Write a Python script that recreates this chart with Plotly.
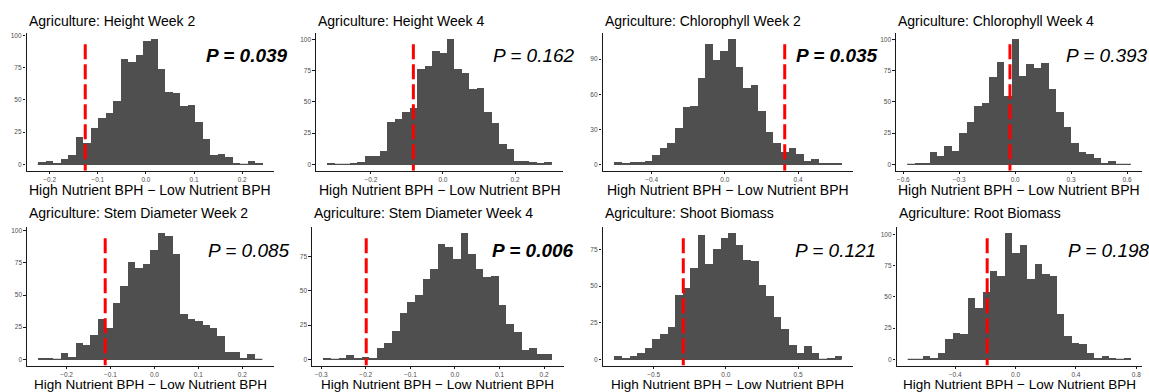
import plotly.graph_objects as go

# ---- data -----------------------------------------------------------------
titles = [
    "Agriculture: Height Week 2",
    "Agriculture: Height Week 4",
    "Agriculture: Chlorophyll Week 2",
    "Agriculture: Chlorophyll Week 4",
    "Agriculture: Stem Diameter Week 2",
    "Agriculture: Stem Diameter Week 4",
    "Agriculture: Shoot Biomass",
    "Agriculture: Root Biomass",
]

# permutation counts, 30 equal-width bins per panel
counts_height_w2 = [2, 3, 1, 4, 7, 21, 17, 28, 36, 40, 49, 82, 79, 85, 96,
                    97, 74, 56, 55, 45, 46, 33, 20, 7, 8, 6, 1, 0, 3, 1]
counts_height_w4 = [1, 0, 0, 1, 2, 7, 7, 11, 34, 36, 42, 45, 76, 79, 91,
                    89, 100, 76, 73, 60, 61, 42, 33, 16, 12, 3, 3, 2, 1, 2]
counts_chloro_w2 = [2, 1, 2, 2, 3, 8, 14, 18, 31, 49, 50, 74, 103, 89, 97,
                    107, 83, 65, 68, 46, 28, 18, 11, 14, 9, 3, 5, 1, 1, 1]
counts_chloro_w4 = [0, 1, 1, 10, 7, 15, 11, 25, 34, 47, 49, 70, 82, 55, 100,
                    71, 80, 77, 81, 60, 42, 30, 17, 10, 8, 5, 1, 3, 0, 0]
counts_stem_w2 = [1, 1, 0, 5, 2, 13, 11, 19, 31, 24, 44, 57, 76, 71, 74,
                  85, 98, 96, 82, 35, 31, 30, 27, 24, 18, 6, 6, 1, 4, 0]
counts_stem_w4 = [1, 0, 1, 3, 1, 2, 1, 8, 12, 21, 34, 42, 47, 59, 66,
                  84, 82, 73, 92, 77, 66, 60, 61, 40, 26, 20, 7, 8, 4, 4]
counts_shoot = [2, 1, 2, 4, 8, 14, 17, 22, 44, 49, 62, 85, 65, 75, 83,
                86, 78, 68, 67, 51, 43, 29, 21, 10, 4, 9, 4, 0, 1, 2]
counts_root = [0, 0, 3, 1, 5, 16, 21, 20, 49, 41, 54, 71, 67, 101, 85,
               92, 64, 76, 68, 67, 36, 19, 13, 12, 5, 1, 3, 1, 0, 1]

all_counts = [counts_height_w2, counts_height_w4, counts_chloro_w2,
              counts_chloro_w4, counts_stem_w2, counts_stem_w4,
              counts_shoot, counts_root]

# outer edges of the binned permutation differences
bin_lo = [-0.2247, -0.321, -0.606, -0.579, -0.2645, -0.295, -0.776, -0.715]
bin_hi = [0.2417, 0.302, 0.635, 0.620, 0.2455, 0.218, 0.802, 0.764]

# observed High - Low nutrient difference
observed = [-0.126, -0.082, 0.327, -0.028, -0.112, -0.199, -0.295, -0.188]

p_values = ["0.039", "0.162", "0.035", "0.393", "0.085", "0.006", "0.121", "0.198"]
p_significant = [True, False, True, False, False, True, False, False]

x_ticks = [
    [-0.2, -0.1, 0.0, 0.1, 0.2],
    [-0.2, 0.0, 0.2],
    [-0.4, 0.0, 0.4],
    [-0.6, -0.3, 0.0, 0.3, 0.6],
    [-0.2, -0.1, 0.0, 0.1, 0.2],
    [-0.3, -0.2, -0.1, 0.0, 0.1, 0.2],
    [-0.5, 0.0, 0.5],
    [-0.4, 0.0, 0.4, 0.8],
]
y_ticks = [
    [0, 25, 50, 75, 100],
    [0, 25, 50, 75, 100],
    [0, 30, 60, 90],
    [0, 25, 50, 75, 100],
    [0, 25, 50, 75, 100],
    [0, 25, 50, 75],
    [0, 25, 50, 75],
    [0, 25, 50, 75, 100],
]

x_label = "High Nutrient BPH \u2212 Low Nutrient BPH"

# ---- layout geometry (pixels) ---------------------------------------------
W, H = 1149, 392
panel_x = [(26.5, 273.5), (316, 563), (602.5, 852.5), (896, 1142),
           (27, 273.5), (312, 563.5), (602.5, 853), (896.5, 1142)]
row_y = [(33, 170.7), (227, 365.6)]
title_y = [21.5, 213.5]
xlabel_y = [189.5, 384.2]
xlabel_size = [14, 13.5]
p_y = [55.5, 250.5]
p_left = [204, 491, 794, 1064, 206, 490, 793, 1066]

FONT = "Liberation Sans, Arial, Helvetica, sans-serif"
BAR = "#4f4f4f"
AXIS = "#1a1a1a"
TICKTXT = "#4d4d4d"


def px_x(v):
    return v / W


def px_y(v):
    return 1 - v / H


fig = go.Figure()
shapes = []
annotations = []
layout_axes = {}

for i in range(8):
    n = i + 1
    row = i // 4
    counts = all_counts[i]
    lo, hi = bin_lo[i], bin_hi[i]
    nb = len(counts)
    bw = (hi - lo) / nb
    centers = [lo + bw * (k + 0.5) for k in range(nb)]
    ymax = max(counts)
    span = hi - lo
    xr = [lo - 0.05 * span, hi + 0.05 * span]
    yr = [-0.05 * ymax, 1.05 * ymax]
    xa = "x" if n == 1 else f"x{n}"
    ya = "y" if n == 1 else f"y{n}"

    fig.add_trace(go.Bar(
        x=centers, y=counts, width=bw,
        marker=dict(color=BAR, line=dict(width=0)),
        xaxis=xa, yaxis=ya, hoverinfo="x+y",
    ))
    # zero-height bins still leave a thin baseline across the binned range
    fig.add_trace(go.Scatter(
        x=[lo, hi], y=[0, 0], mode="lines",
        line=dict(color=BAR, width=1.3),
        xaxis=xa, yaxis=ya, hoverinfo="skip",
    ))

    x0, x1 = panel_x[i]
    y0, y1 = row_y[row]
    layout_axes[f"xaxis{'' if n == 1 else n}"] = dict(
        domain=[px_x(x0), px_x(x1)], anchor=ya, range=xr,
        showline=True, linecolor=AXIS, linewidth=1.2,
        ticks="outside", ticklen=2.2, tickwidth=1, tickcolor=AXIS,
        tickvals=x_ticks[i], tickformat=".1f",
        tickfont=dict(size=6.5, color=TICKTXT, family=FONT),
        showgrid=False, zeroline=False, fixedrange=True,
    )
    layout_axes[f"yaxis{'' if n == 1 else n}"] = dict(
        domain=[px_y(y1), px_y(y0)], anchor=xa, range=yr,
        showline=True, linecolor=AXIS, linewidth=1.2,
        ticks="outside", ticklen=2.5, tickwidth=1, tickcolor=AXIS,
        tickvals=y_ticks[i],
        tickfont=dict(size=6.5, color=TICKTXT, family=FONT),
        showgrid=False, zeroline=False, fixedrange=True,
    )

    # observed difference, dashed red
    shapes.append(dict(
        type="line", xref=xa, yref=ya,
        x0=observed[i], x1=observed[i],
        y0=0.96 * ymax, y1=-0.05 * ymax,
        line=dict(color="#ff0000", width=3, dash="15px,5px"),
    ))

    annotations.append(dict(
        text=titles[i], xref="paper", yref="paper",
        x=px_x(x0), y=px_y(title_y[row]), xanchor="left", yanchor="middle",
        showarrow=False, font=dict(size=14, color="#000000", family=FONT),
    ))
    annotations.append(dict(
        text=x_label, xref="paper", yref="paper",
        x=px_x((x0 + x1) / 2), y=px_y(xlabel_y[row]),
        xanchor="center", yanchor="middle",
        showarrow=False,
        font=dict(size=xlabel_size[row], color="#000000", family=FONT),
    ))
    ptxt = f"<i>P = {p_values[i]}</i>"
    if p_significant[i]:
        ptxt = f"<b>{ptxt}</b>"
    annotations.append(dict(
        text=ptxt, xref="paper", yref="paper",
        x=px_x(p_left[i]), y=px_y(p_y[row]),
        xanchor="left", yanchor="middle",
        showarrow=False, font=dict(size=19, color="#000000", family=FONT),
    ))

fig.update_layout(
    width=W, height=H,
    margin=dict(l=0, r=0, t=0, b=0),
    paper_bgcolor="white", plot_bgcolor="white",
    showlegend=False, barmode="overlay", bargap=0,
    font=dict(family=FONT),
    shapes=shapes, annotations=annotations,
    **layout_axes,
)

fig.write_html("out.html")
